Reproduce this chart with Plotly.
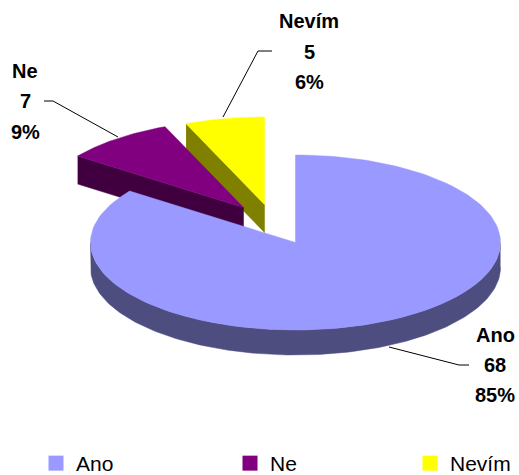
import math
import plotly.graph_objects as go

categories = ["Ano", "Ne", "Nevím"]
values = [68, 7, 5]
top_colors = ["#9999FF", "#800080", "#FFFF00"]
wall_colors = ["#4D4D80", "#400040", "#808000"]

W, H = 519, 475
CX, CY, RX, RY = 295.5, 242.5, 205, 87.5
OFFSETS = [(0, 0), (-52, -35), (-31, -38)]
DEPTHS = [25, 28, 28]
FONT = "Liberation Sans, Arial, sans-serif"

total = sum(values)
angles = []
a = 0.0
for v in values:
    angles.append((a, a + v / total * 2 * math.pi))
    a = angles[-1][1]


def pt(theta, off):
    return CX + off[0] + RX * math.sin(theta), CY + off[1] - RY * math.cos(theta)


def arc(t0, t1, off, n=160):
    return [pt(t0 + (t1 - t0) * i / n, off) for i in range(n + 1)]


def poly(points, color, name):
    return go.Scatter(x=[p[0] for p in points], y=[p[1] for p in points], mode="lines",
                      fill="toself", fillcolor=color, line=dict(color=color, width=0.5),
                      hoverinfo="text", text=name, showlegend=False)


fig = go.Figure()

for i in [2, 1, 0]:
    t0, t1 = angles[i]
    off, d = OFFSETS[i], DEPTHS[i]
    if i == 0:
        rim = arc(math.pi / 2, 3 * math.pi / 2, off)
        wall = rim + [(x, y + d) for x, y in reversed(rim)]
    else:
        tip = (CX + off[0], CY + off[1])
        edge = pt(t0, off)
        wall = [edge, tip, (tip[0], tip[1] + d), (edge[0], edge[1] + d)]
    fig.add_trace(poly(wall, wall_colors[i], categories[i]))
    top = [(CX + off[0], CY + off[1])] + arc(t0, t1, off) + [(CX + off[0], CY + off[1])]
    fig.add_trace(poly(top, top_colors[i], categories[i]))

leaders = [
    [(389, 347), (459, 365), (469, 365)],
    [(118, 137), (53, 101), (44, 101)],
    [(223, 117), (258, 51), (272, 51)],
]
for seg in leaders:
    fig.add_trace(go.Scatter(x=[p[0] for p in seg], y=[p[1] for p in seg], mode="lines",
                             line=dict(color="#000000", width=1), hoverinfo="skip", showlegend=False))

label_pos = [(495, [335, 365, 395]), (25, [71, 101, 132]), (309, [21, 52, 82])]
anns = []
for i, (x, ys) in enumerate(label_pos):
    texts = [categories[i], str(values[i]), f"{round(values[i] / total * 100)}%"]
    for t, y in zip(texts, ys):
        anns.append(dict(x=x, y=y, xref="x", yref="y", text=f"<b>{t}</b>", showarrow=False,
                         xanchor="center", yanchor="middle",
                         font=dict(family=FONT, size=20, color="#000000")))

legend_x = [36, 230, 410]
layout_legends = {}
for i, name in enumerate(categories):
    key = "legend" if i == 0 else f"legend{i + 1}"
    fig.add_trace(go.Scatter(x=[None], y=[None], mode="markers", name=name, legend=key,
                             marker=dict(symbol="square", size=15, color=top_colors[i]),
                             hoverinfo="skip", showlegend=True))
    layout_legends[key] = dict(x=legend_x[i] / W, y=-9 / H, xref="paper", yref="paper",
                               xanchor="left", yanchor="bottom", bgcolor="rgba(0,0,0,0)",
                               font=dict(family=FONT, size=21, color="#000000"),
                               itemwidth=30, borderwidth=0)

fig.update_layout(
    width=W, height=H, margin=dict(l=0, r=0, t=0, b=0, autoexpand=False),
    paper_bgcolor="#FFFFFF", plot_bgcolor="#FFFFFF",
    xaxis=dict(range=[0, W], visible=False, fixedrange=True),
    yaxis=dict(range=[H, 0], visible=False, fixedrange=True),
    annotations=anns,
    **layout_legends,
)
fig.write_html("out.html", config=dict(displayModeBar=False),
               post_script="document.body.style.margin='0';document.documentElement.style.overflow='hidden';")
